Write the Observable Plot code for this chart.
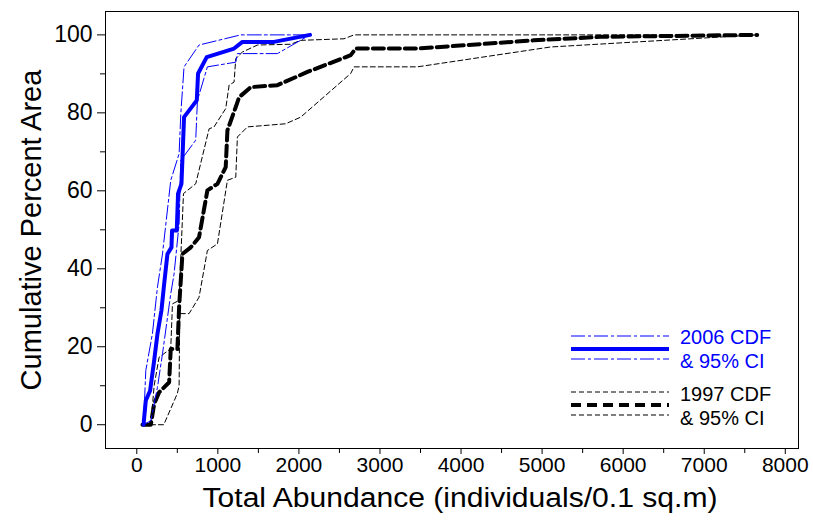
<!DOCTYPE html>
<html><head><meta charset="utf-8">
<script src="https://cdn.jsdelivr.net/npm/d3@7"></script>
<script src="https://cdn.jsdelivr.net/npm/@observablehq/plot@0.6"></script>
<style>
body{margin:0;background:#fff;font-family:"Liberation Sans",Arial,sans-serif}
#wrap{position:relative;width:813px;height:523px}
#legend{position:absolute;left:0;top:0;pointer-events:none}
</style></head><body><div id="wrap"></div>
<script>
// 2006 survey (blue)
const cdf2006 = [[83,0],[111,6.2],[164,8.7],[214,16.4],[255,23.3],[304,29.3],[337,36],[378,43.8],[428,45.5],[435,49.8],[493,49.8],[509,59.3],[551,61.8],[583,78.9],[740,83.2],[756,90.1],[863,94.3],[1200,96.5],[1303,98.2],[1693,98.2],[2137,100]];
const upper2006 = [[83,0],[111,13.9],[193,23.4],[255,35.3],[317,43.8],[419,62.7],[522,69.5],[543,79.8],[583,91.8],[768,97.4],[1282,100],[2137,100]];
const lower2006 = [[83,0],[173,1],[255,9.6],[317,18.2],[419,33.6],[460,38.7],[522,51.5],[543,67.8],[727,73],[748,83.2],[871,91.8],[1221,93],[1241,95.2],[1735,95.2],[2137,100]];
// 1997 survey (black)
const cdf1997 = [[70,0],[173,0],[214,5.3],[275,8.3],[399,10.9],[419,19.4],[501,19.4],[522,30.1],[563,43.8],[666,45.5],[768,48.1],[871,60.1],[995,61.8],[1097,66.1],[1118,75.5],[1221,81.5],[1262,84],[1406,86.6],[1735,87.1],[2105,90.5],[2639,94.8],[2700,96.5],[3461,96.5],[4895,98.6],[5721,99.5],[7653,100]];
const upper1997 = [[70,0],[173,0],[214,10],[275,17.3],[419,19.5],[440,31],[522,31.9],[543,43],[576,59.3],[727,61.8],[892,75.9],[953,76.4],[1097,81.1],[1139,87.1],[1200,87.9],[1221,93.9],[1303,95.6],[1488,97.4],[1899,97.6],[2022,98.6],[2556,99],[2680,100],[7653,100]];
const lower1997 = [[70,0],[333,0],[500,8],[522,10],[530,28.5],[645,28.5],[768,32.7],[871,44.7],[995,46.4],[1118,62.7],[1221,63.5],[1241,73.8],[1365,76.4],[1837,77.2],[2022,78.9],[2639,90.1],[2680,91.8],[3461,91.8],[5105,96.9],[7653,100]];

const xTicks = [0,1000,2000,3000,4000,5000,6000,7000,8000];
const xMinor = [500,1500,2500,3500,4500,5500,6500,7500];
const yTicks = [0,20,40,60,80,100];
const yMinor = [10,30,50,70,90];
const xTitle = "Total Abundance (individuals/0.1 sq.m)";
const yTitle = "Cumulative Percent Area";
const legendLabels = ["2006 CDF","& 95% CI","1997 CDF","& 95% CI"];

const BLUE = "#0000ff";
const lineMark = (data, opts) => Plot.line(data, {x: d => d[0], y: d => d[1], ...opts});

const chart = Plot.plot({
  width: 813, height: 523,
  marginLeft: 105, marginRight: 15, marginTop: 11, marginBottom: 75,
  style: {fontFamily: "'Liberation Sans', Arial, sans-serif", background: "white", color: "black"},
  x: {domain: [-386, 8163]},
  y: {domain: [-6.1, 106]},
  marks: [
    Plot.axisX(xTicks, {tickSize: 6, tickPadding: 3, fontSize: 21, tickFormat: d => String(d), label: null}),
    Plot.axisX(xMinor, {tickSize: 5, tickFormat: () => "", label: null}),
    Plot.axisY(yTicks, {tickSize: 8, tickPadding: 5, fontSize: 23, label: null}),
    Plot.axisY(yMinor, {tickSize: 5, tickFormat: () => "", label: null}),
    lineMark(upper1997, {stroke: "black", strokeWidth: 1, strokeDasharray: "5,3"}),
    lineMark(lower1997, {stroke: "black", strokeWidth: 1, strokeDasharray: "5,3"}),
    lineMark(cdf1997, {stroke: "black", strokeWidth: 4, strokeDasharray: "11,5"}),
    lineMark(upper2006, {stroke: BLUE, strokeWidth: 1, strokeDasharray: "14,3,3,3"}),
    lineMark(lower2006, {stroke: BLUE, strokeWidth: 1, strokeDasharray: "14,3,3,3"}),
    lineMark(cdf2006, {stroke: BLUE, strokeWidth: 4}),
    Plot.frame({stroke: "black"}),
    Plot.text([xTitle], {text: d => d, frameAnchor: "bottom", dx: 8, dy: 50, lineAnchor: "middle", fontSize: 27, fill: "black"}),
    Plot.text([yTitle], {text: d => d, frameAnchor: "left", textAnchor: "middle", dx: -74, rotate: -90, fontSize: 29, fill: "black"})
  ]
});
// the reference's axis title is set slightly wider than the font's natural width
for (const t of chart.querySelectorAll("text")) {
  if (t.textContent === xTitle) {
    t.setAttribute("textLength", 515);
    t.setAttribute("lengthAdjust", "spacingAndGlyphs");
  }
}
const wrap = document.getElementById("wrap");
wrap.appendChild(chart);

// legend overlay (inside plot area, lower right)
const ns = "http://www.w3.org/2000/svg";
const lg = document.createElementNS(ns, "svg");
lg.setAttribute("id", "legend");
lg.setAttribute("width", 813); lg.setAttribute("height", 523);
const items = [
  {y: 336, stroke: BLUE, w: 1, dash: "14,3,3,3"},
  {y: 349, stroke: BLUE, w: 4, dash: null},
  {y: 359, stroke: BLUE, w: 1, dash: "14,3,3,3"},
  {y: 392, stroke: "black", w: 1, dash: "5,3"},
  {y: 405, stroke: "black", w: 4, dash: "10,6"},
  {y: 415, stroke: "black", w: 1, dash: "5,3"}
];
for (const it of items) {
  const l = document.createElementNS(ns, "line");
  l.setAttribute("x1", 571); l.setAttribute("x2", 669);
  l.setAttribute("y1", it.y); l.setAttribute("y2", it.y);
  l.setAttribute("stroke", it.stroke); l.setAttribute("stroke-width", it.w);
  if (it.dash) l.setAttribute("stroke-dasharray", it.dash);
  lg.appendChild(l);
}
const texts = [
  {t: legendLabels[0], y: 344, fill: BLUE},
  {t: legendLabels[1], y: 368, fill: BLUE},
  {t: legendLabels[2], y: 401, fill: "black"},
  {t: legendLabels[3], y: 425, fill: "black"}
];
for (const tt of texts) {
  const e = document.createElementNS(ns, "text");
  e.setAttribute("x", 680); e.setAttribute("y", tt.y);
  e.setAttribute("fill", tt.fill);
  e.setAttribute("font-size", 20);
  e.setAttribute("font-family", "'Liberation Sans', Arial, sans-serif");
  e.textContent = tt.t;
  lg.appendChild(e);
}
wrap.appendChild(lg);
</script></body></html>
